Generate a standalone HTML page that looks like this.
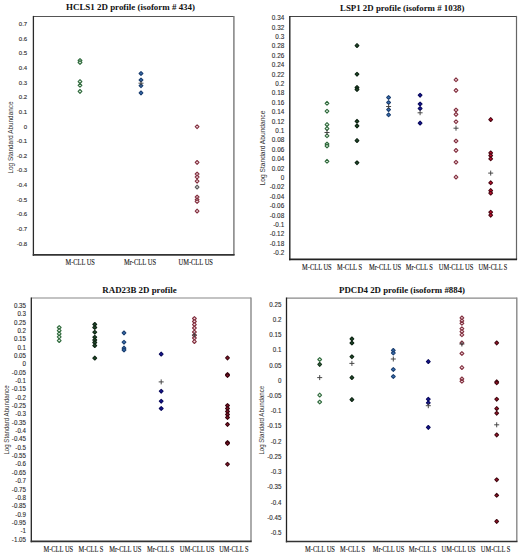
<!DOCTYPE html>
<html><head><meta charset="utf-8"><style>
html,body{margin:0;padding:0;background:#fff;}
body{width:520px;height:555px;overflow:hidden;}
svg{display:block;}
.t{font-family:"Liberation Serif",serif;font-weight:bold;font-size:9px;fill:#111;}
.y{font-family:"Liberation Sans",sans-serif;fill:#2e2e2e;stroke:#2e2e2e;stroke-width:0.12px;text-anchor:end;}
.yt{font-family:"Liberation Sans",sans-serif;font-size:6.6px;fill:#333;text-anchor:middle;}
.x{font-family:"Liberation Serif",serif;font-size:7.2px;fill:#1a1a1a;stroke:#1a1a1a;stroke-width:0.12px;}
</style></head><body>
<svg width="520" height="555" viewBox="0 0 520 555">
<rect width="520" height="555" fill="#fff"/>
<text x="66" y="10.4" class="t" textLength="129" lengthAdjust="spacingAndGlyphs">HCLS1 2D profile (isoform # 434)</text>
<path d="M33.4 16.5H233.9" stroke="#555" stroke-width="1.2" fill="none"/>
<path d="M233.9 15.9V254.9" stroke="#777" stroke-width="1.4" fill="none"/>
<path d="M33.4 15.9V255.85" stroke="#2a2a2a" stroke-width="1.3" fill="none"/>
<path d="M32.75 254.9H234.6" stroke="#333" stroke-width="1.9" fill="none"/>
<g transform="translate(27.2 0) scale(0.97 1)" style="font-size:6.2px">
<text x="0" y="26.2" class="y">0.7</text>
<text x="0" y="40.8" class="y">0.6</text>
<text x="0" y="55.5" class="y">0.5</text>
<text x="0" y="70.1" class="y">0.4</text>
<text x="0" y="84.7" class="y">0.3</text>
<text x="0" y="99.4" class="y">0.2</text>
<text x="0" y="114.0" class="y">0.1</text>
<text x="0" y="128.6" class="y">0</text>
<text x="0" y="143.3" class="y">-0.1</text>
<text x="0" y="157.9" class="y">-0.2</text>
<text x="0" y="172.5" class="y">-0.3</text>
<text x="0" y="187.1" class="y">-0.4</text>
<text x="0" y="201.8" class="y">-0.5</text>
<text x="0" y="216.4" class="y">-0.6</text>
<text x="0" y="231.0" class="y">-0.7</text>
<text x="0" y="245.7" class="y">-0.8</text>
</g>
<text x="0" y="0" class="yt" transform="translate(13 137.5) rotate(-90)" textLength="72" lengthAdjust="spacingAndGlyphs">Log Standard Abundance</text>
<text x="65.5" y="264.5" class="x" textLength="29.3" lengthAdjust="spacingAndGlyphs">M-CLL US</text>
<text x="124" y="264.5" class="x" textLength="32.0" lengthAdjust="spacingAndGlyphs">Mr-CLL US</text>
<text x="178.5" y="264.5" class="x" textLength="34.4" lengthAdjust="spacingAndGlyphs">UM-CLL US</text>
<path d="M80.0 58.6L81.9 60.5L80.0 62.4L78.1 60.5Z" fill="#eaf4ea" stroke="#2f6a3c" stroke-width="1.1" stroke-linejoin="round"/>
<path d="M80.0 60.6L81.9 62.5L80.0 64.4L78.1 62.5Z" fill="#eaf4ea" stroke="#2f6a3c" stroke-width="1.1" stroke-linejoin="round"/>
<path d="M80.0 79.7L81.9 81.6L80.0 83.5L78.1 81.6Z" fill="#eaf4ea" stroke="#2f6a3c" stroke-width="1.1" stroke-linejoin="round"/>
<path d="M80.0 83.4L81.9 85.3L80.0 87.2L78.1 85.3Z" fill="#eaf4ea" stroke="#2f6a3c" stroke-width="1.1" stroke-linejoin="round"/>
<path d="M80.0 89.5L81.9 91.4L80.0 93.3L78.1 91.4Z" fill="#eaf4ea" stroke="#2f6a3c" stroke-width="1.1" stroke-linejoin="round"/>
<path d="M141.0 71.6L142.9 73.5L141.0 75.4L139.1 73.5Z" fill="#3a72b4" stroke="#1c3f70" stroke-width="1.1" stroke-linejoin="round"/>
<path d="M141.0 78.1L142.9 80.0L141.0 81.9L139.1 80.0Z" fill="#3a72b4" stroke="#1c3f70" stroke-width="1.1" stroke-linejoin="round"/>
<path d="M141.0 83.8L142.9 85.7L141.0 87.6L139.1 85.7Z" fill="#3a72b4" stroke="#1c3f70" stroke-width="1.1" stroke-linejoin="round"/>
<path d="M141.0 91.0L142.9 92.9L141.0 94.8L139.1 92.9Z" fill="#3a72b4" stroke="#1c3f70" stroke-width="1.1" stroke-linejoin="round"/>
<path d="M197.1 124.8L199.0 126.7L197.1 128.6L195.2 126.7Z" fill="#f4dde3" stroke="#82303f" stroke-width="1.1" stroke-linejoin="round"/>
<path d="M197.1 160.5L199.0 162.4L197.1 164.3L195.2 162.4Z" fill="#f4dde3" stroke="#82303f" stroke-width="1.1" stroke-linejoin="round"/>
<path d="M197.1 172.1L199.0 174.0L197.1 175.9L195.2 174.0Z" fill="#f4dde3" stroke="#82303f" stroke-width="1.1" stroke-linejoin="round"/>
<path d="M197.1 175.1L199.0 177.0L197.1 178.9L195.2 177.0Z" fill="#f4dde3" stroke="#82303f" stroke-width="1.1" stroke-linejoin="round"/>
<path d="M197.1 179.3L199.0 181.2L197.1 183.1L195.2 181.2Z" fill="#f4dde3" stroke="#82303f" stroke-width="1.1" stroke-linejoin="round"/>
<path d="M197.1 195.1L199.0 197.0L197.1 198.9L195.2 197.0Z" fill="#f4dde3" stroke="#82303f" stroke-width="1.1" stroke-linejoin="round"/>
<path d="M197.1 197.8L199.0 199.7L197.1 201.6L195.2 199.7Z" fill="#f4dde3" stroke="#82303f" stroke-width="1.1" stroke-linejoin="round"/>
<path d="M197.1 199.6L199.0 201.5L197.1 203.4L195.2 201.5Z" fill="#f4dde3" stroke="#82303f" stroke-width="1.1" stroke-linejoin="round"/>
<path d="M197.1 209.2L199.0 211.1L197.1 213.0L195.2 211.1Z" fill="#f4dde3" stroke="#82303f" stroke-width="1.1" stroke-linejoin="round"/>
<path d="M197.1 185.2L199.0 187.1L197.1 189.0L195.2 187.1Z" fill="#d8d8d8" stroke="#5a5a5a" stroke-width="1.1" stroke-linejoin="round"/>
<path d="M138.5 83.2H143.5M141.0 80.7V85.7" stroke="#404040" stroke-width="0.95" fill="none"/>
<text x="340" y="10.7" class="t" textLength="124.5" lengthAdjust="spacingAndGlyphs">LSP1 2D profile (isoform # 1038)</text>
<path d="M289.8 16.5H516.5" stroke="#444" stroke-width="1.2" fill="none"/>
<path d="M516.5 15.9V259.3" stroke="#666" stroke-width="1.2" fill="none"/>
<path d="M289.8 15.9V260.2" stroke="#222" stroke-width="1.4" fill="none"/>
<path d="M289.1 259.3H517.1" stroke="#222" stroke-width="1.8" fill="none"/>
<g transform="translate(284.2 0) scale(0.885 1)" style="font-size:7.2px">
<text x="0" y="20.3" class="y">0.34</text>
<text x="0" y="29.7" class="y">0.32</text>
<text x="0" y="39.1" class="y">0.3</text>
<text x="0" y="48.5" class="y">0.28</text>
<text x="0" y="57.9" class="y">0.26</text>
<text x="0" y="67.3" class="y">0.24</text>
<text x="0" y="76.7" class="y">0.22</text>
<text x="0" y="86.1" class="y">0.2</text>
<text x="0" y="95.5" class="y">0.18</text>
<text x="0" y="104.9" class="y">0.16</text>
<text x="0" y="114.3" class="y">0.14</text>
<text x="0" y="123.7" class="y">0.12</text>
<text x="0" y="133.1" class="y">0.1</text>
<text x="0" y="142.5" class="y">0.08</text>
<text x="0" y="151.9" class="y">0.06</text>
<text x="0" y="161.3" class="y">0.04</text>
<text x="0" y="170.7" class="y">0.02</text>
<text x="0" y="180.1" class="y">0</text>
<text x="0" y="189.5" class="y">-0.02</text>
<text x="0" y="198.9" class="y">-0.04</text>
<text x="0" y="208.3" class="y">-0.06</text>
<text x="0" y="217.7" class="y">-0.08</text>
<text x="0" y="227.1" class="y">-0.1</text>
<text x="0" y="236.5" class="y">-0.12</text>
<text x="0" y="245.9" class="y">-0.18</text>
<text x="0" y="255.3" class="y">-0.2</text>
</g>
<text x="0" y="0" class="yt" transform="translate(265 148) rotate(-90)" textLength="74.7" lengthAdjust="spacingAndGlyphs">Log Standard Abundance</text>
<text x="302.1" y="270" class="x" textLength="29.6" lengthAdjust="spacingAndGlyphs">M-CLL US</text>
<text x="337" y="270" class="x" textLength="25.0" lengthAdjust="spacingAndGlyphs">M-CLL S</text>
<text x="369" y="270" class="x" textLength="32.0" lengthAdjust="spacingAndGlyphs">Mr-CLL US</text>
<text x="405.8" y="270" class="x" textLength="27.0" lengthAdjust="spacingAndGlyphs">Mr-CLL S</text>
<text x="438.7" y="270" class="x" textLength="34.7" lengthAdjust="spacingAndGlyphs">UM-CLL US</text>
<text x="478.5" y="270" class="x" textLength="28.8" lengthAdjust="spacingAndGlyphs">UM-CLL S</text>
<path d="M327.0 101.4L328.9 103.3L327.0 105.2L325.1 103.3Z" fill="#eaf4ea" stroke="#2f6a3c" stroke-width="1.1" stroke-linejoin="round"/>
<path d="M327.0 109.3L328.9 111.2L327.0 113.1L325.1 111.2Z" fill="#eaf4ea" stroke="#2f6a3c" stroke-width="1.1" stroke-linejoin="round"/>
<path d="M327.0 122.7L328.9 124.6L327.0 126.5L325.1 124.6Z" fill="#eaf4ea" stroke="#2f6a3c" stroke-width="1.1" stroke-linejoin="round"/>
<path d="M327.0 126.7L328.9 128.6L327.0 130.5L325.1 128.6Z" fill="#eaf4ea" stroke="#2f6a3c" stroke-width="1.1" stroke-linejoin="round"/>
<path d="M327.0 133.9L328.9 135.8L327.0 137.7L325.1 135.8Z" fill="#eaf4ea" stroke="#2f6a3c" stroke-width="1.1" stroke-linejoin="round"/>
<path d="M327.0 142.1L328.9 144.0L327.0 145.9L325.1 144.0Z" fill="#eaf4ea" stroke="#2f6a3c" stroke-width="1.1" stroke-linejoin="round"/>
<path d="M327.0 144.1L328.9 146.0L327.0 147.9L325.1 146.0Z" fill="#eaf4ea" stroke="#2f6a3c" stroke-width="1.1" stroke-linejoin="round"/>
<path d="M327.0 159.4L328.9 161.3L327.0 163.2L325.1 161.3Z" fill="#eaf4ea" stroke="#2f6a3c" stroke-width="1.1" stroke-linejoin="round"/>
<path d="M357.0 43.7L358.9 45.6L357.0 47.5L355.1 45.6Z" fill="#214c2b" stroke="#0e2414" stroke-width="1.1" stroke-linejoin="round"/>
<path d="M357.0 72.3L358.9 74.2L357.0 76.1L355.1 74.2Z" fill="#214c2b" stroke="#0e2414" stroke-width="1.1" stroke-linejoin="round"/>
<path d="M357.0 85.6L358.9 87.5L357.0 89.4L355.1 87.5Z" fill="#214c2b" stroke="#0e2414" stroke-width="1.1" stroke-linejoin="round"/>
<path d="M357.0 87.6L358.9 89.5L357.0 91.4L355.1 89.5Z" fill="#214c2b" stroke="#0e2414" stroke-width="1.1" stroke-linejoin="round"/>
<path d="M357.0 119.4L358.9 121.3L357.0 123.2L355.1 121.3Z" fill="#214c2b" stroke="#0e2414" stroke-width="1.1" stroke-linejoin="round"/>
<path d="M357.0 124.0L358.9 125.9L357.0 127.8L355.1 125.9Z" fill="#214c2b" stroke="#0e2414" stroke-width="1.1" stroke-linejoin="round"/>
<path d="M357.0 138.7L358.9 140.6L357.0 142.5L355.1 140.6Z" fill="#214c2b" stroke="#0e2414" stroke-width="1.1" stroke-linejoin="round"/>
<path d="M357.0 160.8L358.9 162.7L357.0 164.6L355.1 162.7Z" fill="#214c2b" stroke="#0e2414" stroke-width="1.1" stroke-linejoin="round"/>
<path d="M388.6 95.6L390.5 97.5L388.6 99.4L386.7 97.5Z" fill="#3a72b4" stroke="#1c3f70" stroke-width="1.1" stroke-linejoin="round"/>
<path d="M388.6 100.6L390.5 102.5L388.6 104.4L386.7 102.5Z" fill="#3a72b4" stroke="#1c3f70" stroke-width="1.1" stroke-linejoin="round"/>
<path d="M388.6 107.7L390.5 109.6L388.6 111.5L386.7 109.6Z" fill="#3a72b4" stroke="#1c3f70" stroke-width="1.1" stroke-linejoin="round"/>
<path d="M388.6 112.8L390.5 114.8L388.6 116.7L386.7 114.8Z" fill="#3a72b4" stroke="#1c3f70" stroke-width="1.1" stroke-linejoin="round"/>
<path d="M420.1 93.3L422.0 95.2L420.1 97.2L418.2 95.2Z" fill="#18189a" stroke="#08085a" stroke-width="1.1" stroke-linejoin="round"/>
<path d="M420.1 102.1L422.0 104.0L420.1 105.9L418.2 104.0Z" fill="#18189a" stroke="#08085a" stroke-width="1.1" stroke-linejoin="round"/>
<path d="M420.1 106.6L422.0 108.5L420.1 110.4L418.2 108.5Z" fill="#18189a" stroke="#08085a" stroke-width="1.1" stroke-linejoin="round"/>
<path d="M420.1 121.2L422.0 123.1L420.1 125.0L418.2 123.1Z" fill="#18189a" stroke="#08085a" stroke-width="1.1" stroke-linejoin="round"/>
<path d="M456.0 77.8L457.9 79.8L456.0 81.7L454.1 79.8Z" fill="#f4dde3" stroke="#82303f" stroke-width="1.1" stroke-linejoin="round"/>
<path d="M456.0 88.5L457.9 90.4L456.0 92.3L454.1 90.4Z" fill="#f4dde3" stroke="#82303f" stroke-width="1.1" stroke-linejoin="round"/>
<path d="M456.0 108.1L457.9 110.0L456.0 111.9L454.1 110.0Z" fill="#f4dde3" stroke="#82303f" stroke-width="1.1" stroke-linejoin="round"/>
<path d="M456.0 112.5L457.9 114.4L456.0 116.3L454.1 114.4Z" fill="#f4dde3" stroke="#82303f" stroke-width="1.1" stroke-linejoin="round"/>
<path d="M456.0 119.8L457.9 121.7L456.0 123.6L454.1 121.7Z" fill="#f4dde3" stroke="#82303f" stroke-width="1.1" stroke-linejoin="round"/>
<path d="M456.0 139.1L457.9 141.0L456.0 142.9L454.1 141.0Z" fill="#f4dde3" stroke="#82303f" stroke-width="1.1" stroke-linejoin="round"/>
<path d="M456.0 148.5L457.9 150.4L456.0 152.3L454.1 150.4Z" fill="#f4dde3" stroke="#82303f" stroke-width="1.1" stroke-linejoin="round"/>
<path d="M456.0 160.3L457.9 162.2L456.0 164.2L454.1 162.2Z" fill="#f4dde3" stroke="#82303f" stroke-width="1.1" stroke-linejoin="round"/>
<path d="M456.0 175.2L457.9 177.1L456.0 179.0L454.1 177.1Z" fill="#f4dde3" stroke="#82303f" stroke-width="1.1" stroke-linejoin="round"/>
<path d="M490.7 117.7L492.6 119.6L490.7 121.5L488.8 119.6Z" fill="#d01030" stroke="#4a0612" stroke-width="1.1" stroke-linejoin="round"/>
<path d="M490.7 151.0L492.6 152.9L490.7 154.8L488.8 152.9Z" fill="#d01030" stroke="#4a0612" stroke-width="1.1" stroke-linejoin="round"/>
<path d="M490.7 153.7L492.6 155.6L490.7 157.5L488.8 155.6Z" fill="#d01030" stroke="#4a0612" stroke-width="1.1" stroke-linejoin="round"/>
<path d="M490.7 156.9L492.6 158.8L490.7 160.7L488.8 158.8Z" fill="#d01030" stroke="#4a0612" stroke-width="1.1" stroke-linejoin="round"/>
<path d="M490.7 180.8L492.6 182.8L490.7 184.7L488.8 182.8Z" fill="#d01030" stroke="#4a0612" stroke-width="1.1" stroke-linejoin="round"/>
<path d="M490.7 188.7L492.6 190.6L490.7 192.5L488.8 190.6Z" fill="#d01030" stroke="#4a0612" stroke-width="1.1" stroke-linejoin="round"/>
<path d="M490.7 191.2L492.6 193.1L490.7 195.0L488.8 193.1Z" fill="#d01030" stroke="#4a0612" stroke-width="1.1" stroke-linejoin="round"/>
<path d="M490.7 210.3L492.6 212.2L490.7 214.2L488.8 212.2Z" fill="#d01030" stroke="#4a0612" stroke-width="1.1" stroke-linejoin="round"/>
<path d="M490.7 213.3L492.6 215.2L490.7 217.2L488.8 215.2Z" fill="#d01030" stroke="#4a0612" stroke-width="1.1" stroke-linejoin="round"/>
<path d="M324.5 132.5H329.5M327.0 130.0V135.0" stroke="#404040" stroke-width="0.95" fill="none"/>
<path d="M386.1 106.5H391.1M388.6 104.0V109.0" stroke="#404040" stroke-width="0.95" fill="none"/>
<path d="M417.6 112.8H422.6M420.1 110.2V115.2" stroke="#404040" stroke-width="0.95" fill="none"/>
<path d="M453.5 128.2H458.5M456.0 125.7V130.7" stroke="#404040" stroke-width="0.95" fill="none"/>
<path d="M488.2 173.1H493.2M490.7 170.6V175.6" stroke="#404040" stroke-width="0.95" fill="none"/>
<text x="102.3" y="292.9" class="t" textLength="74.39999999999999" lengthAdjust="spacingAndGlyphs">RAD23B 2D profile</text>
<path d="M31.3 298H251" stroke="#888" stroke-width="1.2" fill="none"/>
<path d="M251 297.4V541.4" stroke="#888" stroke-width="1.4" fill="none"/>
<path d="M31.3 297.4V542.25" stroke="#222" stroke-width="1.3" fill="none"/>
<path d="M30.650000000000002 541.4H251.7" stroke="#333" stroke-width="1.7" fill="none"/>
<g transform="translate(26 0) scale(0.9 1)" style="font-size:6.9px">
<text x="0" y="308.1" class="y">0.35</text>
<text x="0" y="316.4" class="y">0.3</text>
<text x="0" y="324.8" class="y">0.25</text>
<text x="0" y="333.1" class="y">0.2</text>
<text x="0" y="341.4" class="y">0.15</text>
<text x="0" y="349.8" class="y">0.1</text>
<text x="0" y="358.1" class="y">0.05</text>
<text x="0" y="366.5" class="y">0</text>
<text x="0" y="374.8" class="y">-0.05</text>
<text x="0" y="383.1" class="y">-0.1</text>
<text x="0" y="391.5" class="y">-0.15</text>
<text x="0" y="399.8" class="y">-0.2</text>
<text x="0" y="408.2" class="y">-0.25</text>
<text x="0" y="416.5" class="y">-0.3</text>
<text x="0" y="424.8" class="y">-0.35</text>
<text x="0" y="433.2" class="y">-0.4</text>
<text x="0" y="441.5" class="y">-0.45</text>
<text x="0" y="449.9" class="y">-0.5</text>
<text x="0" y="458.2" class="y">-0.55</text>
<text x="0" y="466.5" class="y">-0.6</text>
<text x="0" y="474.9" class="y">-0.65</text>
<text x="0" y="483.2" class="y">-0.7</text>
<text x="0" y="491.6" class="y">-0.75</text>
<text x="0" y="499.9" class="y">-0.8</text>
<text x="0" y="508.2" class="y">-0.85</text>
<text x="0" y="516.6" class="y">-0.9</text>
<text x="0" y="524.9" class="y">-0.95</text>
<text x="0" y="533.3" class="y">-1</text>
<text x="0" y="541.6" class="y">-1.05</text>
</g>
<text x="0" y="0" class="yt" transform="translate(8.5 420) rotate(-90)" textLength="69.2" lengthAdjust="spacingAndGlyphs">Log Standard Abundance</text>
<text x="43.4" y="551.6" class="x" textLength="29.8" lengthAdjust="spacingAndGlyphs">M-CLL US</text>
<text x="78.5" y="551.6" class="x" textLength="24.9" lengthAdjust="spacingAndGlyphs">M-CLL S</text>
<text x="109.2" y="551.6" class="x" textLength="32.1" lengthAdjust="spacingAndGlyphs">Mr-CLL US</text>
<text x="146.9" y="551.6" class="x" textLength="27.3" lengthAdjust="spacingAndGlyphs">Mr-CLL S</text>
<text x="179.7" y="551.6" class="x" textLength="34.7" lengthAdjust="spacingAndGlyphs">UM-CLL US</text>
<text x="219.2" y="551.6" class="x" textLength="29.3" lengthAdjust="spacingAndGlyphs">UM-CLL S</text>
<path d="M59.2 325.6L61.1 327.5L59.2 329.4L57.3 327.5Z" fill="#eaf4ea" stroke="#2f6a3c" stroke-width="1.1" stroke-linejoin="round"/>
<path d="M59.2 328.7L61.1 330.6L59.2 332.5L57.3 330.6Z" fill="#eaf4ea" stroke="#2f6a3c" stroke-width="1.1" stroke-linejoin="round"/>
<path d="M59.2 331.9L61.1 333.8L59.2 335.6L57.3 333.8Z" fill="#eaf4ea" stroke="#2f6a3c" stroke-width="1.1" stroke-linejoin="round"/>
<path d="M59.2 335.0L61.1 336.9L59.2 338.8L57.3 336.9Z" fill="#eaf4ea" stroke="#2f6a3c" stroke-width="1.1" stroke-linejoin="round"/>
<path d="M59.2 338.7L61.1 340.6L59.2 342.5L57.3 340.6Z" fill="#eaf4ea" stroke="#2f6a3c" stroke-width="1.1" stroke-linejoin="round"/>
<path d="M94.8 322.5L96.7 324.4L94.8 326.3L92.8 324.4Z" fill="#214c2b" stroke="#0e2414" stroke-width="1.1" stroke-linejoin="round"/>
<path d="M94.8 325.6L96.7 327.5L94.8 329.4L92.8 327.5Z" fill="#214c2b" stroke="#0e2414" stroke-width="1.1" stroke-linejoin="round"/>
<path d="M94.8 330.4L96.7 332.2L94.8 334.1L92.8 332.2Z" fill="#214c2b" stroke="#0e2414" stroke-width="1.1" stroke-linejoin="round"/>
<path d="M94.8 335.4L96.7 337.2L94.8 339.1L92.8 337.2Z" fill="#214c2b" stroke="#0e2414" stroke-width="1.1" stroke-linejoin="round"/>
<path d="M94.8 338.1L96.7 340.0L94.8 341.9L92.8 340.0Z" fill="#214c2b" stroke="#0e2414" stroke-width="1.1" stroke-linejoin="round"/>
<path d="M94.8 340.6L96.7 342.5L94.8 344.4L92.8 342.5Z" fill="#214c2b" stroke="#0e2414" stroke-width="1.1" stroke-linejoin="round"/>
<path d="M94.8 343.7L96.7 345.6L94.8 347.5L92.8 345.6Z" fill="#214c2b" stroke="#0e2414" stroke-width="1.1" stroke-linejoin="round"/>
<path d="M94.8 356.2L96.7 358.1L94.8 360.0L92.8 358.1Z" fill="#214c2b" stroke="#0e2414" stroke-width="1.1" stroke-linejoin="round"/>
<path d="M124.0 331.0L125.9 332.9L124.0 334.8L122.1 332.9Z" fill="#3a72b4" stroke="#1c3f70" stroke-width="1.1" stroke-linejoin="round"/>
<path d="M124.0 340.4L125.9 342.2L124.0 344.1L122.1 342.2Z" fill="#3a72b4" stroke="#1c3f70" stroke-width="1.1" stroke-linejoin="round"/>
<path d="M124.0 346.2L125.9 348.1L124.0 350.0L122.1 348.1Z" fill="#3a72b4" stroke="#1c3f70" stroke-width="1.1" stroke-linejoin="round"/>
<path d="M124.0 348.1L125.9 350.0L124.0 351.9L122.1 350.0Z" fill="#3a72b4" stroke="#1c3f70" stroke-width="1.1" stroke-linejoin="round"/>
<path d="M161.2 352.2L163.1 354.1L161.2 356.0L159.3 354.1Z" fill="#18189a" stroke="#08085a" stroke-width="1.1" stroke-linejoin="round"/>
<path d="M161.2 389.4L163.1 391.2L161.2 393.1L159.3 391.2Z" fill="#18189a" stroke="#08085a" stroke-width="1.1" stroke-linejoin="round"/>
<path d="M161.2 399.4L163.1 401.2L161.2 403.1L159.3 401.2Z" fill="#18189a" stroke="#08085a" stroke-width="1.1" stroke-linejoin="round"/>
<path d="M161.2 406.6L163.1 408.5L161.2 410.4L159.3 408.5Z" fill="#18189a" stroke="#08085a" stroke-width="1.1" stroke-linejoin="round"/>
<path d="M194.4 316.6L196.3 318.5L194.4 320.4L192.5 318.5Z" fill="#f4dde3" stroke="#82303f" stroke-width="1.1" stroke-linejoin="round"/>
<path d="M194.4 319.6L196.3 321.5L194.4 323.4L192.5 321.5Z" fill="#f4dde3" stroke="#82303f" stroke-width="1.1" stroke-linejoin="round"/>
<path d="M194.4 322.7L196.3 324.6L194.4 326.5L192.5 324.6Z" fill="#f4dde3" stroke="#82303f" stroke-width="1.1" stroke-linejoin="round"/>
<path d="M194.4 326.1L196.3 328.0L194.4 329.9L192.5 328.0Z" fill="#f4dde3" stroke="#82303f" stroke-width="1.1" stroke-linejoin="round"/>
<path d="M194.4 330.1L196.3 332.0L194.4 333.9L192.5 332.0Z" fill="#f4dde3" stroke="#82303f" stroke-width="1.1" stroke-linejoin="round"/>
<path d="M194.4 333.4L196.3 335.3L194.4 337.2L192.5 335.3Z" fill="#f4dde3" stroke="#82303f" stroke-width="1.1" stroke-linejoin="round"/>
<path d="M194.4 336.1L196.3 338.0L194.4 339.9L192.5 338.0Z" fill="#f4dde3" stroke="#82303f" stroke-width="1.1" stroke-linejoin="round"/>
<path d="M194.4 339.7L196.3 341.6L194.4 343.5L192.5 341.6Z" fill="#f4dde3" stroke="#82303f" stroke-width="1.1" stroke-linejoin="round"/>
<path d="M227.5 356.0L229.4 357.9L227.5 359.8L225.6 357.9Z" fill="#8a1428" stroke="#3a0610" stroke-width="1.1" stroke-linejoin="round"/>
<path d="M227.5 372.6L229.4 374.5L227.5 376.4L225.6 374.5Z" fill="#8a1428" stroke="#3a0610" stroke-width="1.1" stroke-linejoin="round"/>
<path d="M227.5 373.6L229.4 375.5L227.5 377.4L225.6 375.5Z" fill="#8a1428" stroke="#3a0610" stroke-width="1.1" stroke-linejoin="round"/>
<path d="M227.5 403.6L229.4 405.5L227.5 407.4L225.6 405.5Z" fill="#8a1428" stroke="#3a0610" stroke-width="1.1" stroke-linejoin="round"/>
<path d="M227.5 406.6L229.4 408.5L227.5 410.4L225.6 408.5Z" fill="#8a1428" stroke="#3a0610" stroke-width="1.1" stroke-linejoin="round"/>
<path d="M227.5 409.6L229.4 411.5L227.5 413.4L225.6 411.5Z" fill="#8a1428" stroke="#3a0610" stroke-width="1.1" stroke-linejoin="round"/>
<path d="M227.5 412.6L229.4 414.5L227.5 416.4L225.6 414.5Z" fill="#8a1428" stroke="#3a0610" stroke-width="1.1" stroke-linejoin="round"/>
<path d="M227.5 415.6L229.4 417.5L227.5 419.4L225.6 417.5Z" fill="#8a1428" stroke="#3a0610" stroke-width="1.1" stroke-linejoin="round"/>
<path d="M227.5 422.5L229.4 424.4L227.5 426.3L225.6 424.4Z" fill="#8a1428" stroke="#3a0610" stroke-width="1.1" stroke-linejoin="round"/>
<path d="M227.5 440.6L229.4 442.5L227.5 444.4L225.6 442.5Z" fill="#8a1428" stroke="#3a0610" stroke-width="1.1" stroke-linejoin="round"/>
<path d="M227.5 441.6L229.4 443.5L227.5 445.4L225.6 443.5Z" fill="#8a1428" stroke="#3a0610" stroke-width="1.1" stroke-linejoin="round"/>
<path d="M227.5 462.3L229.4 464.2L227.5 466.1L225.6 464.2Z" fill="#8a1428" stroke="#3a0610" stroke-width="1.1" stroke-linejoin="round"/>
<path d="M158.7 381.9H163.7M161.2 379.4V384.4" stroke="#404040" stroke-width="0.95" fill="none"/>
<path d="M191.9 335.0H196.9M194.4 332.5V337.5" stroke="#404040" stroke-width="0.95" fill="none"/>
<text x="339" y="292.9" class="t" textLength="126" lengthAdjust="spacingAndGlyphs">PDCD4 2D profile (isoform #884)</text>
<path d="M286.5 298.1H516.8" stroke="#888" stroke-width="1.2" fill="none"/>
<path d="M516.8 297.5V541.5" stroke="#888" stroke-width="1.4" fill="none"/>
<path d="M286.5 297.5V542.35" stroke="#222" stroke-width="1.3" fill="none"/>
<path d="M285.85 541.5H517.5" stroke="#333" stroke-width="1.7" fill="none"/>
<g transform="translate(281.4 0) scale(0.91 1)" style="font-size:6.8px">
<text x="0" y="306.6" class="y">0.25</text>
<text x="0" y="321.9" class="y">0.2</text>
<text x="0" y="337.1" class="y">0.15</text>
<text x="0" y="352.3" class="y">0.1</text>
<text x="0" y="367.6" class="y">0.05</text>
<text x="0" y="382.8" class="y">0</text>
<text x="0" y="398.0" class="y">-0.05</text>
<text x="0" y="413.2" class="y">-0.1</text>
<text x="0" y="428.5" class="y">-0.15</text>
<text x="0" y="443.7" class="y">-0.2</text>
<text x="0" y="458.9" class="y">-0.25</text>
<text x="0" y="474.2" class="y">-0.3</text>
<text x="0" y="489.4" class="y">-0.35</text>
<text x="0" y="504.6" class="y">-0.4</text>
<text x="0" y="519.9" class="y">-0.45</text>
<text x="0" y="535.1" class="y">-0.5</text>
</g>
<text x="0" y="0" class="yt" transform="translate(264.3 420.2) rotate(-90)" textLength="68.7" lengthAdjust="spacingAndGlyphs">Log Standard Abundance</text>
<text x="305" y="551.8" class="x" textLength="30.0" lengthAdjust="spacingAndGlyphs">M-CLL US</text>
<text x="340.1" y="551.8" class="x" textLength="24.9" lengthAdjust="spacingAndGlyphs">M-CLL S</text>
<text x="372.7" y="551.8" class="x" textLength="31.6" lengthAdjust="spacingAndGlyphs">Mr-CLL US</text>
<text x="408.8" y="551.8" class="x" textLength="27.5" lengthAdjust="spacingAndGlyphs">Mr-CLL S</text>
<text x="441.6" y="551.8" class="x" textLength="34.1" lengthAdjust="spacingAndGlyphs">UM-CLL US</text>
<text x="480.8" y="551.8" class="x" textLength="29.6" lengthAdjust="spacingAndGlyphs">UM-CLL S</text>
<path d="M319.7 357.6L321.6 359.5L319.7 361.4L317.8 359.5Z" fill="#eaf4ea" stroke="#2f6a3c" stroke-width="1.1" stroke-linejoin="round"/>
<path d="M319.7 393.2L321.6 395.1L319.7 397.0L317.8 395.1Z" fill="#eaf4ea" stroke="#2f6a3c" stroke-width="1.1" stroke-linejoin="round"/>
<path d="M319.7 400.1L321.6 402.0L319.7 403.9L317.8 402.0Z" fill="#eaf4ea" stroke="#2f6a3c" stroke-width="1.1" stroke-linejoin="round"/>
<path d="M319.7 362.5L321.6 364.4L319.7 366.3L317.8 364.4Z" fill="#3c6a44" stroke="#16361e" stroke-width="1.1" stroke-linejoin="round"/>
<path d="M351.9 337.0L353.8 338.9L351.9 340.8L350.0 338.9Z" fill="#214c2b" stroke="#0e2414" stroke-width="1.1" stroke-linejoin="round"/>
<path d="M351.9 341.1L353.8 343.0L351.9 344.9L350.0 343.0Z" fill="#214c2b" stroke="#0e2414" stroke-width="1.1" stroke-linejoin="round"/>
<path d="M351.9 354.8L353.8 356.7L351.9 358.6L350.0 356.7Z" fill="#214c2b" stroke="#0e2414" stroke-width="1.1" stroke-linejoin="round"/>
<path d="M351.9 375.7L353.8 377.6L351.9 379.5L350.0 377.6Z" fill="#214c2b" stroke="#0e2414" stroke-width="1.1" stroke-linejoin="round"/>
<path d="M351.9 397.7L353.8 399.6L351.9 401.5L350.0 399.6Z" fill="#214c2b" stroke="#0e2414" stroke-width="1.1" stroke-linejoin="round"/>
<path d="M393.3 348.5L395.2 350.4L393.3 352.3L391.4 350.4Z" fill="#3a72b4" stroke="#1c3f70" stroke-width="1.1" stroke-linejoin="round"/>
<path d="M393.3 351.1L395.2 353.0L393.3 354.9L391.4 353.0Z" fill="#3a72b4" stroke="#1c3f70" stroke-width="1.1" stroke-linejoin="round"/>
<path d="M393.3 367.6L395.2 369.5L393.3 371.4L391.4 369.5Z" fill="#3a72b4" stroke="#1c3f70" stroke-width="1.1" stroke-linejoin="round"/>
<path d="M393.3 374.6L395.2 376.5L393.3 378.4L391.4 376.5Z" fill="#3a72b4" stroke="#1c3f70" stroke-width="1.1" stroke-linejoin="round"/>
<path d="M428.3 359.7L430.2 361.6L428.3 363.5L426.4 361.6Z" fill="#18189a" stroke="#08085a" stroke-width="1.1" stroke-linejoin="round"/>
<path d="M428.3 397.3L430.2 399.2L428.3 401.1L426.4 399.2Z" fill="#18189a" stroke="#08085a" stroke-width="1.1" stroke-linejoin="round"/>
<path d="M428.3 400.9L430.2 402.8L428.3 404.7L426.4 402.8Z" fill="#18189a" stroke="#08085a" stroke-width="1.1" stroke-linejoin="round"/>
<path d="M428.3 425.5L430.2 427.4L428.3 429.3L426.4 427.4Z" fill="#18189a" stroke="#08085a" stroke-width="1.1" stroke-linejoin="round"/>
<path d="M461.9 316.0L463.8 317.9L461.9 319.8L460.0 317.9Z" fill="#f4dde3" stroke="#82303f" stroke-width="1.1" stroke-linejoin="round"/>
<path d="M461.9 318.9L463.8 320.8L461.9 322.7L460.0 320.8Z" fill="#f4dde3" stroke="#82303f" stroke-width="1.1" stroke-linejoin="round"/>
<path d="M461.9 321.4L463.8 323.3L461.9 325.2L460.0 323.3Z" fill="#f4dde3" stroke="#82303f" stroke-width="1.1" stroke-linejoin="round"/>
<path d="M461.9 326.8L463.8 328.7L461.9 330.6L460.0 328.7Z" fill="#f4dde3" stroke="#82303f" stroke-width="1.1" stroke-linejoin="round"/>
<path d="M461.9 329.7L463.8 331.6L461.9 333.5L460.0 331.6Z" fill="#f4dde3" stroke="#82303f" stroke-width="1.1" stroke-linejoin="round"/>
<path d="M461.9 332.9L463.8 334.8L461.9 336.7L460.0 334.8Z" fill="#f4dde3" stroke="#82303f" stroke-width="1.1" stroke-linejoin="round"/>
<path d="M461.9 341.0L463.8 342.9L461.9 344.8L460.0 342.9Z" fill="#f4dde3" stroke="#82303f" stroke-width="1.1" stroke-linejoin="round"/>
<path d="M461.9 351.6L463.8 353.5L461.9 355.4L460.0 353.5Z" fill="#f4dde3" stroke="#82303f" stroke-width="1.1" stroke-linejoin="round"/>
<path d="M461.9 365.7L463.8 367.6L461.9 369.5L460.0 367.6Z" fill="#f4dde3" stroke="#82303f" stroke-width="1.1" stroke-linejoin="round"/>
<path d="M461.9 377.0L463.8 378.9L461.9 380.8L460.0 378.9Z" fill="#f4dde3" stroke="#82303f" stroke-width="1.1" stroke-linejoin="round"/>
<path d="M461.9 379.4L463.8 381.3L461.9 383.2L460.0 381.3Z" fill="#f4dde3" stroke="#82303f" stroke-width="1.1" stroke-linejoin="round"/>
<path d="M496.7 341.0L498.6 342.9L496.7 344.8L494.8 342.9Z" fill="#a3142c" stroke="#400810" stroke-width="1.1" stroke-linejoin="round"/>
<path d="M496.7 379.9L498.6 381.8L496.7 383.7L494.8 381.8Z" fill="#a3142c" stroke="#400810" stroke-width="1.1" stroke-linejoin="round"/>
<path d="M496.7 380.9L498.6 382.8L496.7 384.7L494.8 382.8Z" fill="#a3142c" stroke="#400810" stroke-width="1.1" stroke-linejoin="round"/>
<path d="M496.7 397.3L498.6 399.2L496.7 401.1L494.8 399.2Z" fill="#a3142c" stroke="#400810" stroke-width="1.1" stroke-linejoin="round"/>
<path d="M496.7 406.7L498.6 408.6L496.7 410.5L494.8 408.6Z" fill="#a3142c" stroke="#400810" stroke-width="1.1" stroke-linejoin="round"/>
<path d="M496.7 411.3L498.6 413.2L496.7 415.1L494.8 413.2Z" fill="#a3142c" stroke="#400810" stroke-width="1.1" stroke-linejoin="round"/>
<path d="M496.7 433.0L498.6 434.9L496.7 436.8L494.8 434.9Z" fill="#a3142c" stroke="#400810" stroke-width="1.1" stroke-linejoin="round"/>
<path d="M496.7 477.8L498.6 479.7L496.7 481.6L494.8 479.7Z" fill="#a3142c" stroke="#400810" stroke-width="1.1" stroke-linejoin="round"/>
<path d="M496.7 493.4L498.6 495.3L496.7 497.2L494.8 495.3Z" fill="#a3142c" stroke="#400810" stroke-width="1.1" stroke-linejoin="round"/>
<path d="M496.7 519.5L498.6 521.4L496.7 523.3L494.8 521.4Z" fill="#a3142c" stroke="#400810" stroke-width="1.1" stroke-linejoin="round"/>
<path d="M317.2 377.6H322.2M319.7 375.1V380.1" stroke="#404040" stroke-width="0.95" fill="none"/>
<path d="M349.4 363.4H354.4M351.9 360.9V365.9" stroke="#404040" stroke-width="0.95" fill="none"/>
<path d="M390.8 359.0H395.8M393.3 356.5V361.5" stroke="#404040" stroke-width="0.95" fill="none"/>
<path d="M425.8 405.7H430.8M428.3 403.2V408.2" stroke="#404040" stroke-width="0.95" fill="none"/>
<path d="M459.4 344.0H464.4M461.9 341.5V346.5" stroke="#404040" stroke-width="0.95" fill="none"/>
<path d="M494.2 424.8H499.2M496.7 422.3V427.3" stroke="#404040" stroke-width="0.95" fill="none"/>
</svg>
</body></html>
